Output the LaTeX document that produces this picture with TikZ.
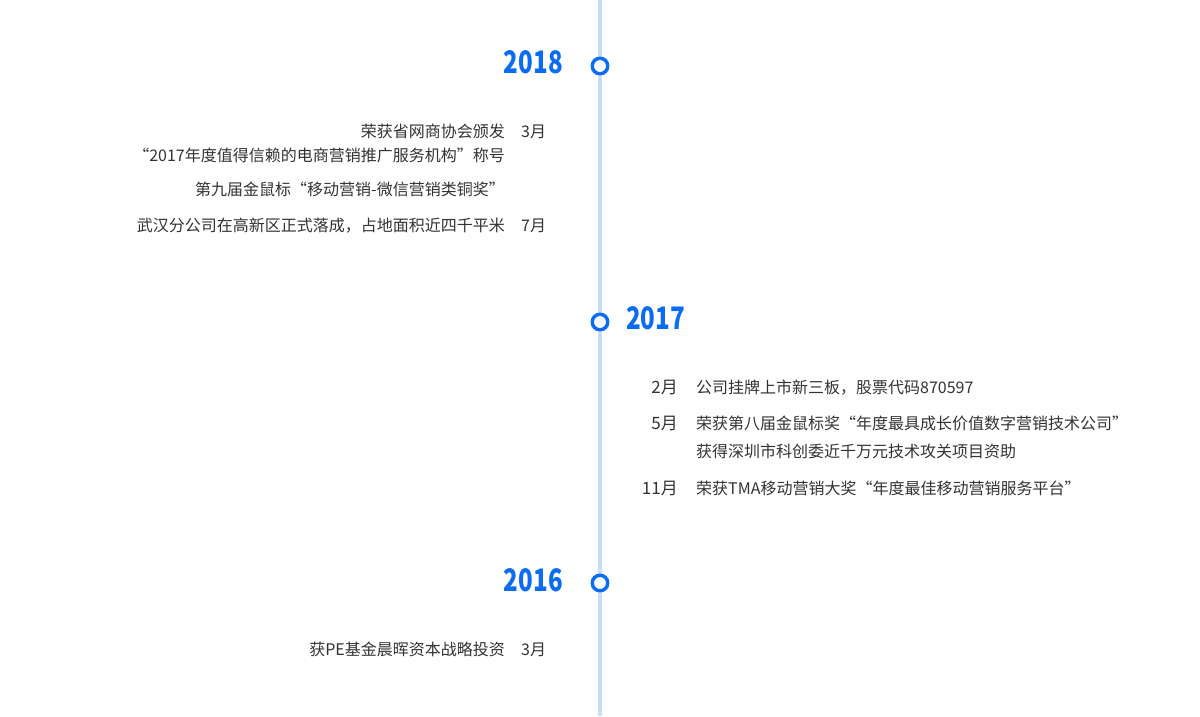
\documentclass[tikz,border=0pt]{standalone}
\usepackage{fontspec}
\setmainfont{Noto Sans CJK SC}
\begin{document}
\begin{tikzpicture}[x=1pt,y=-1pt,
  txt/.style={inner sep=0pt,font=\fontsize{16pt}{18pt}\selectfont,text=textgray},
  mon/.style={inner sep=0pt,font=\fontsize{17pt}{19pt}\selectfont,text=textgray},
  yr/.style={inner sep=0pt,font=\fontsize{31pt}{34pt}\selectfont\bfseries,text=tlblue,xscale=0.78},
  dot/.style={circle,draw=tlblue,line width=3.4pt,fill=white,minimum size=15.5pt,inner sep=0pt}]
\definecolor{tlblue}{HTML}{0A6CF2}
\definecolor{linec}{HTML}{C8DDFA}
\definecolor{textgray}{HTML}{333333}
\useasboundingbox[fill=white] (0,0) rectangle (1200,716);
\coordinate (top) at (600,0);
\coordinate (bot) at (600,716);
\draw[linec,line width=4.5pt] (top) -- (bot);
\node[dot] (d18) at (600,66) {};
\node[dot] (d17) at (600,322) {};
\node[dot] (d16) at (600,583) {};
% years
\node[yr,anchor=base east] (y18) at (563,73) {2018};
\node[yr,anchor=base west] (y17) at (626,329) {2017};
\node[yr,anchor=base east] (y16) at (563,591) {2016};
% 2018 items
\node[txt,anchor=base east] (a1) at (505,137) {荣获省网商协会颁发};
\node[txt,anchor=base west] (m1) at (521,137) {3月};
\node[txt,anchor=base east] (a2) at (505,161) {“2017年度值得信赖的电商营销推广服务机构”称号};
\node[txt,anchor=base east] (a3) at (505,195) {第九届金鼠标“移动营销-微信营销类铜奖”};
\node[txt,anchor=base east] (a4) at (505,231) {武汉分公司在高新区正式落成，占地面积近四千平米};
\node[txt,anchor=base west] (m2) at (521,231) {7月};
% 2017 items
\node[mon,anchor=base east] (m3) at (678,393) {2月};
\node[txt,anchor=base west] (b1) at (696,393) {公司挂牌上市新三板，股票代码870597};
\node[mon,anchor=base east] (m4) at (678,429) {5月};
\node[txt,anchor=base west] (b2) at (696,429) {荣获第八届金鼠标奖“年度最具成长价值数字营销技术公司”};
\node[txt,anchor=base west] (b3) at (696,457) {获得深圳市科创委近千万元技术攻关项目资助};
\node[mon,anchor=base east] (m5) at (678,494) {11月};
\node[txt,anchor=base west] (b4) at (696,494) {荣获TMA移动营销大奖“年度最佳移动营销服务平台”};
% 2016 items
\node[txt,anchor=base east] (c1) at (505,655) {获PE基金晨晖资本战略投资};
\node[txt,anchor=base west] (m6) at (521,655) {3月};
\end{tikzpicture}
\end{document}
